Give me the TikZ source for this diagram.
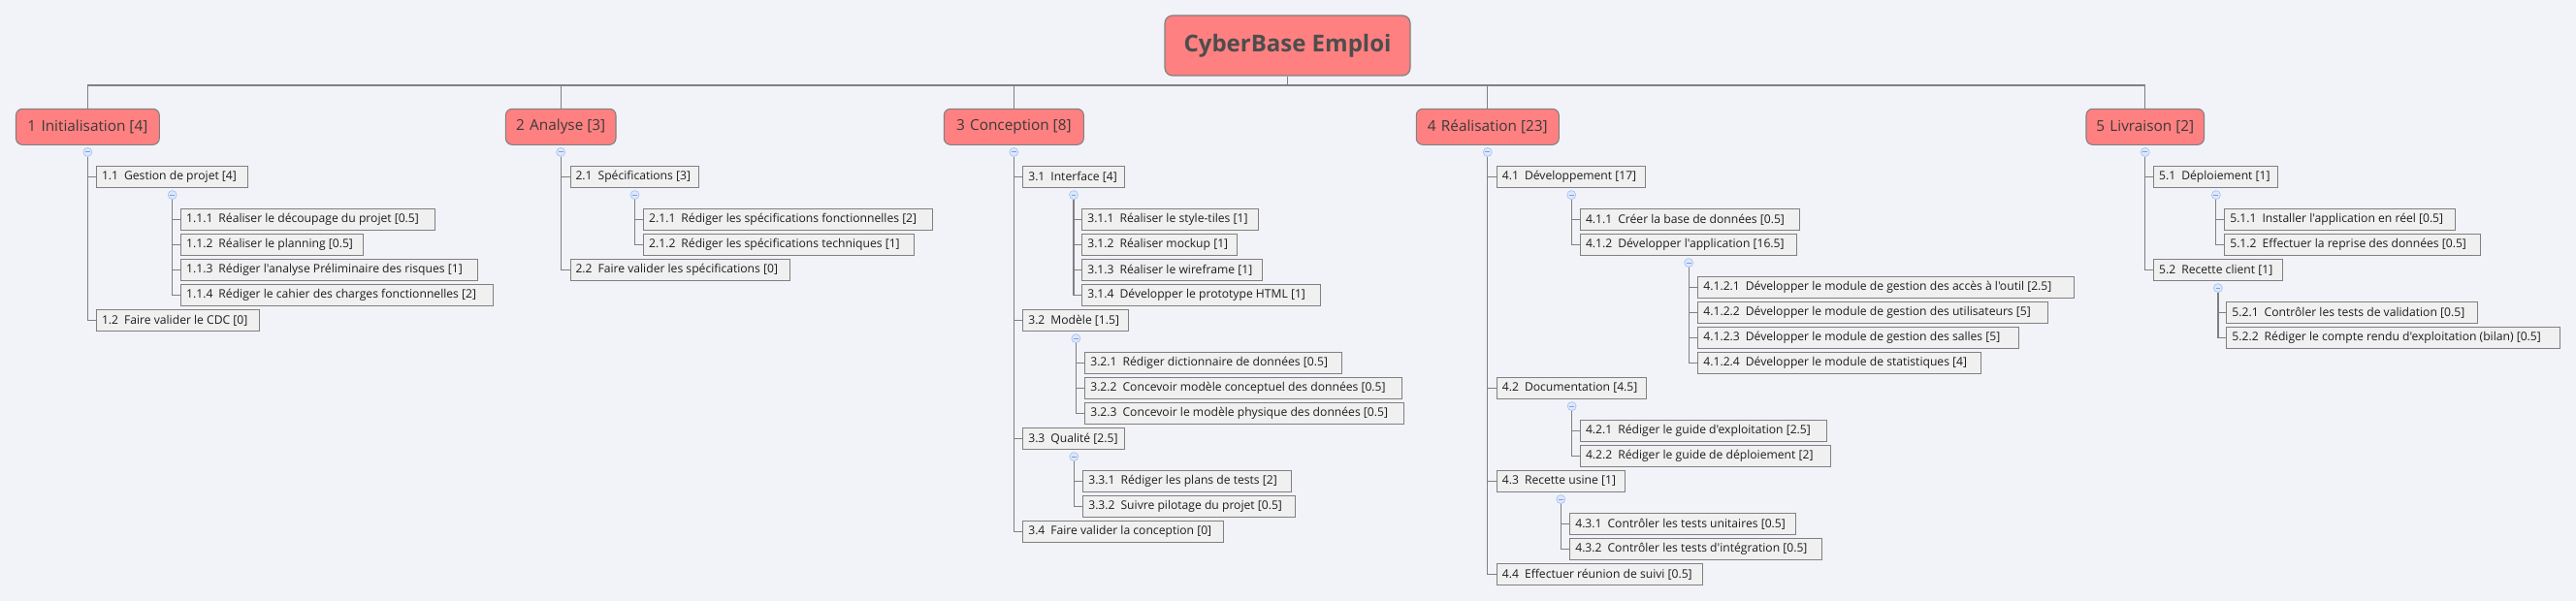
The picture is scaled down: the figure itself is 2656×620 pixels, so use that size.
\documentclass[tikz,border=0pt]{standalone}
\usepackage{fontspec}
\setmainfont{Open Sans}[Ligatures=TeXOff]
\definecolor{bg}{HTML}{F2F3F8}
\definecolor{mainfill}{HTML}{FF8080}
\definecolor{edge}{HTML}{808080}
\definecolor{subfill}{HTML}{F0F0F0}
\definecolor{roottext}{HTML}{4D4D4D}
\definecolor{maintext}{HTML}{3A3A3A}
\definecolor{subtext}{HTML}{1E1E1E}
\definecolor{cfill}{HTML}{DCE8FF}
\definecolor{cdraw}{HTML}{A8C2F0}
\definecolor{cminus}{HTML}{7FA0D8}
\tikzset{
  roottopic/.style={draw=edge, line width=0.9pt, fill=mainfill, rounded corners=6pt,
    minimum width=189.75pt, minimum height=46.5pt, inner sep=0pt,
    font=\fontsize{18}{21}\selectfont\bfseries, text=roottext},
  maintopic/.style={draw=edge, line width=0.8pt, fill=mainfill, rounded corners=5pt,
    minimum height=27.75pt, inner sep=0pt, font=\fontsize{11.5}{14}\selectfont, text=maintext},
  subtopic/.style={draw=edge, line width=0.8pt, fill=subfill, minimum height=16.5pt,
    inner sep=0pt, font=\fontsize{9.1}{10.8}\selectfont, text=subtext},
  link/.style={draw=edge, line width=0.9pt},
  toggle/.style={circle, draw=cdraw, fill=cfill, minimum size=6.75pt, inner sep=0pt, line width=0.5pt},
}
\newcommand{\mainT}[5]{\node[maintopic, minimum width={(#3-#2)*0.75pt}] (#1) at ({(#2+#3)/2},130.8) {#4\hspace{4pt}#5};}
\newcommand{\subT}[6]{\pgfmathsetmacro\subwd{(#4-#2)*0.75-8.2}%
  \node[subtopic, minimum width={(#4-#2)*0.75pt}, anchor=west] (#1) at (#2,#3)
    {\makebox[\subwd pt][l]{#5\hspace{4.5pt}#6}};}
\newcommand{\tog}[1]{\node[toggle] (#1t) at ([yshift=-5.3pt]#1.south) {};
  \draw[cminus, line width=0.6pt] ([xshift=-1.8pt]#1t.center) -- ([xshift=1.8pt]#1t.center);}
\newcommand{\lnk}[2]{\draw[link] (#1t.south) |- (#2.west);}
\begin{document}
\begin{tikzpicture}[x=0.75pt, y=-0.75pt]
\fill[bg] (0,0) rectangle (2656,620);
\useasboundingbox (0,0) rectangle (2656,620);

% root
\node[roottopic] (root) at (1327.5,47) {CyberBase Emploi};
\coordinate (bus) at (1327.5,88);

% main topics
\mainT{n1}{16.5}{164.3}{1}{Initialisation [4]}
\mainT{n2}{521.4}{635}{2}{Analyse [3]}
\mainT{n3}{973.3}{1117.3}{3}{Conception [8]}
\mainT{n4}{1460.3}{1607.3}{4}{Réalisation [23]}
\mainT{n5}{2151}{2272.5}{5}{Livraison [2]}

\draw[link] (root.south) -- (bus);
\foreach \n in {n1,n2,n3,n4,n5} { \draw[link] (bus) -| (\n.north); }

% 1 Initialisation
\subT{s11}{99}{182.5}{255.4}{1.1}{Gestion de projet [4]}
\subT{s111}{186.2}{226.5}{448.2}{1.1.1}{Réaliser le découpage du projet [0.5]}
\subT{s112}{186.2}{252.5}{374}{1.1.2}{Réaliser le planning [0.5]}
\subT{s113}{186.2}{278.5}{492}{1.1.3}{Rédiger l'analyse Préliminaire des risques [1]}
\subT{s114}{186.2}{304.5}{508}{1.1.4}{Rédiger le cahier des charges fonctionnelles [2]}
\subT{s12}{99}{330.5}{267.4}{1.2}{Faire valider le CDC [0]}

% 2 Analyse
\subT{s21}{587.5}{182.5}{720.4}{2.1}{Spécifications [3]}
\subT{s211}{663.2}{226.5}{960.7}{2.1.1}{Rédiger les spécifications fonctionnelles [2]}
\subT{s212}{663.2}{252.5}{941.8}{2.1.2}{Rédiger les spécifications techniques [1]}
\subT{s22}{587.5}{278.5}{814.3}{2.2}{Faire valider les spécifications [0]}

% 3 Conception
\subT{s31}{1054.3}{182.5}{1158.7}{3.1}{Interface [4]}
\subT{s311}{1115.3}{226.5}{1297.3}{3.1.1}{Réaliser le style-tiles [1]}
\subT{s312}{1115.3}{252.5}{1275.3}{3.1.2}{Réaliser mockup [1]}
\subT{s313}{1115.3}{278.5}{1301.3}{3.1.3}{Réaliser le wireframe [1]}
\subT{s314}{1115.3}{304.5}{1361.3}{3.1.4}{Développer le prototype HTML [1]}
\subT{s32}{1054.3}{330.5}{1163.3}{3.2}{Modèle [1.5]}
\subT{s321}{1118.3}{374.5}{1383.3}{3.2.1}{Rédiger dictionnaire de données [0.5]}
\subT{s322}{1118.3}{400.5}{1445.3}{3.2.2}{Concevoir modèle conceptuel des données [0.5]}
\subT{s323}{1118.3}{426.5}{1447.3}{3.2.3}{Concevoir le modèle physique des données [0.5]}
\subT{s33}{1054.3}{452.5}{1159.3}{3.3}{Qualité [2.5]}
\subT{s331}{1116.3}{496.5}{1331.3}{3.3.1}{Rédiger les plans de tests [2]}
\subT{s332}{1116.3}{522.5}{1335.3}{3.3.2}{Suivre pilotage du projet [0.5]}
\subT{s34}{1054.3}{548.5}{1261.3}{3.4}{Faire valider la conception [0]}

% 4 Realisation
\subT{s41}{1542.9}{182.5}{1696.4}{4.1}{Développement [17]}
\subT{s411}{1629}{226.5}{1854.5}{4.1.1}{Créer la base de données [0.5]}
\subT{s412}{1629}{252.5}{1852.2}{4.1.2}{Développer l'application [16.5]}
\subT{s4121}{1750.4}{296.5}{2137.5}{4.1.2.1}{Développer le module de gestion des accès à l'outil [2.5]}
\subT{s4122}{1750.4}{322.5}{2111.2}{4.1.2.2}{Développer le module de gestion des utilisateurs [5]}
\subT{s4123}{1750.4}{348.5}{2081.3}{4.1.2.3}{Développer le module de gestion des salles [5]}
\subT{s4124}{1750.4}{374.5}{2042}{4.1.2.4}{Développer le module de statistiques [4]}
\subT{s42}{1542.9}{400.5}{1697.3}{4.2}{Documentation [4.5]}
\subT{s421}{1629}{444.5}{1883}{4.2.1}{Rédiger le guide d'exploitation [2.5]}
\subT{s422}{1629}{470.5}{1886.6}{4.2.2}{Rédiger le guide de déploiement [2]}
\subT{s43}{1542.9}{496.5}{1674.6}{4.3}{Recette usine [1]}
\subT{s431}{1618.3}{540.5}{1851.3}{4.3.1}{Contrôler les tests unitaires [0.5]}
\subT{s432}{1618.3}{566.5}{1877.7}{4.3.2}{Contrôler les tests d'intégration [0.5]}
\subT{s44}{1542.9}{592.5}{1755.4}{4.4}{Effectuer réunion de suivi [0.5]}

% 5 Livraison
\subT{s51}{2220.2}{182.5}{2348.4}{5.1}{Déploiement [1]}
\subT{s511}{2293.3}{226.5}{2531.3}{5.1.1}{Installer l'application en réel [0.5]}
\subT{s512}{2293.3}{252.5}{2556.6}{5.1.2}{Effectuer la reprise des données [0.5]}
\subT{s52}{2220.2}{278.5}{2352.5}{5.2}{Recette client [1]}
\subT{s521}{2295.4}{322.5}{2554.2}{5.2.1}{Contrôler les tests de validation [0.5]}
\subT{s522}{2295.4}{348.5}{2639.3}{5.2.2}{Rédiger le compte rendu d'exploitation (bilan) [0.5]}

% toggles and links
\tog{n1} \foreach \c in {s11,s12} {\lnk{n1}{\c}}
\tog{s11} \foreach \c in {s111,s112,s113,s114} {\lnk{s11}{\c}}
\tog{n2} \foreach \c in {s21,s22} {\lnk{n2}{\c}}
\tog{s21} \foreach \c in {s211,s212} {\lnk{s21}{\c}}
\tog{n3} \foreach \c in {s31,s32,s33,s34} {\lnk{n3}{\c}}
\tog{s31} \foreach \c in {s311,s312,s313,s314} {\lnk{s31}{\c}}
\tog{s32} \foreach \c in {s321,s322,s323} {\lnk{s32}{\c}}
\tog{s33} \foreach \c in {s331,s332} {\lnk{s33}{\c}}
\tog{n4} \foreach \c in {s41,s42,s43,s44} {\lnk{n4}{\c}}
\tog{s41} \foreach \c in {s411,s412} {\lnk{s41}{\c}}
\tog{s412} \foreach \c in {s4121,s4122,s4123,s4124} {\lnk{s412}{\c}}
\tog{s42} \foreach \c in {s421,s422} {\lnk{s42}{\c}}
\tog{s43} \foreach \c in {s431,s432} {\lnk{s43}{\c}}
\tog{n5} \foreach \c in {s51,s52} {\lnk{n5}{\c}}
\tog{s51} \foreach \c in {s511,s512} {\lnk{s51}{\c}}
\tog{s52} \foreach \c in {s521,s522} {\lnk{s52}{\c}}
\end{tikzpicture}
\end{document}
